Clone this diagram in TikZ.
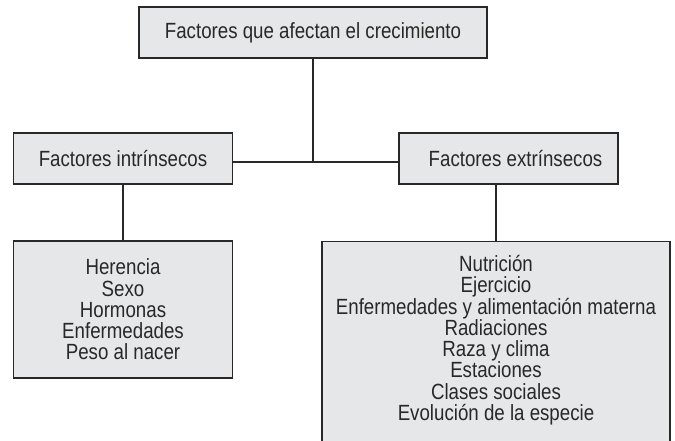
\documentclass[tikz,border=0pt]{standalone}
\usepackage{fontspec}
\setmainfont{Liberation Sans}[FakeStretch=0.85]
\definecolor{boxfill}{RGB}{230,231,232}
\definecolor{ink}{RGB}{40,40,40}
\begin{document}
\begin{tikzpicture}[x=1pt,y=-1pt,
  box/.style={draw=ink, line width=1.4pt, fill=boxfill, inner sep=0pt, text=ink,
    font=\fontsize{22}{21.3}\selectfont, align=center},
  txt/.style={inner sep=0pt, text=ink, font=\fontsize{22}{21.3}\selectfont, align=center},
  link/.style={draw=ink, line width=1.4pt}]
\useasboundingbox (0,0) rectangle (675,441);
\clip (0,0) rectangle (675,441);
\coordinate (j) at (313,162);
\node[box, minimum width=348pt, minimum height=51pt] (top) at (313,32.5) {Factores que afectan el crecimiento};
\node[box, minimum width=219pt, minimum height=51pt] (lm) at (123,158.5) {Factores intrínsecos};
\node[box, minimum width=219pt, minimum height=51pt] (rm) at (508.5,158.5) {\hspace*{14pt}Factores extrínsecos};
\node[box, minimum width=219pt, minimum height=137pt] (lb) at (123,309.5) {Herencia\\Sexo\\Hormonas\\Enfermedades\\Peso al nacer};
\node[box, minimum width=348pt, minimum height=220pt, anchor=north] (rb) at (496,241) {};
\node[txt, anchor=north] (rbt) at (496,255) {Nutrición\\Ejercicio\\Enfermedades y alimentación materna\\Radiaciones\\Raza y clima\\Estaciones\\Clases sociales\\Evolución de la especie};
\draw[link] (top.south) -- (j);
\draw[link] (lm.east |- j) -- (rm.west |- j);
\draw[link] (lm.south) -- (lb.north);
\draw[link] (rb.north |- rm.south) -- (rb.north);
\end{tikzpicture}
\end{document}
